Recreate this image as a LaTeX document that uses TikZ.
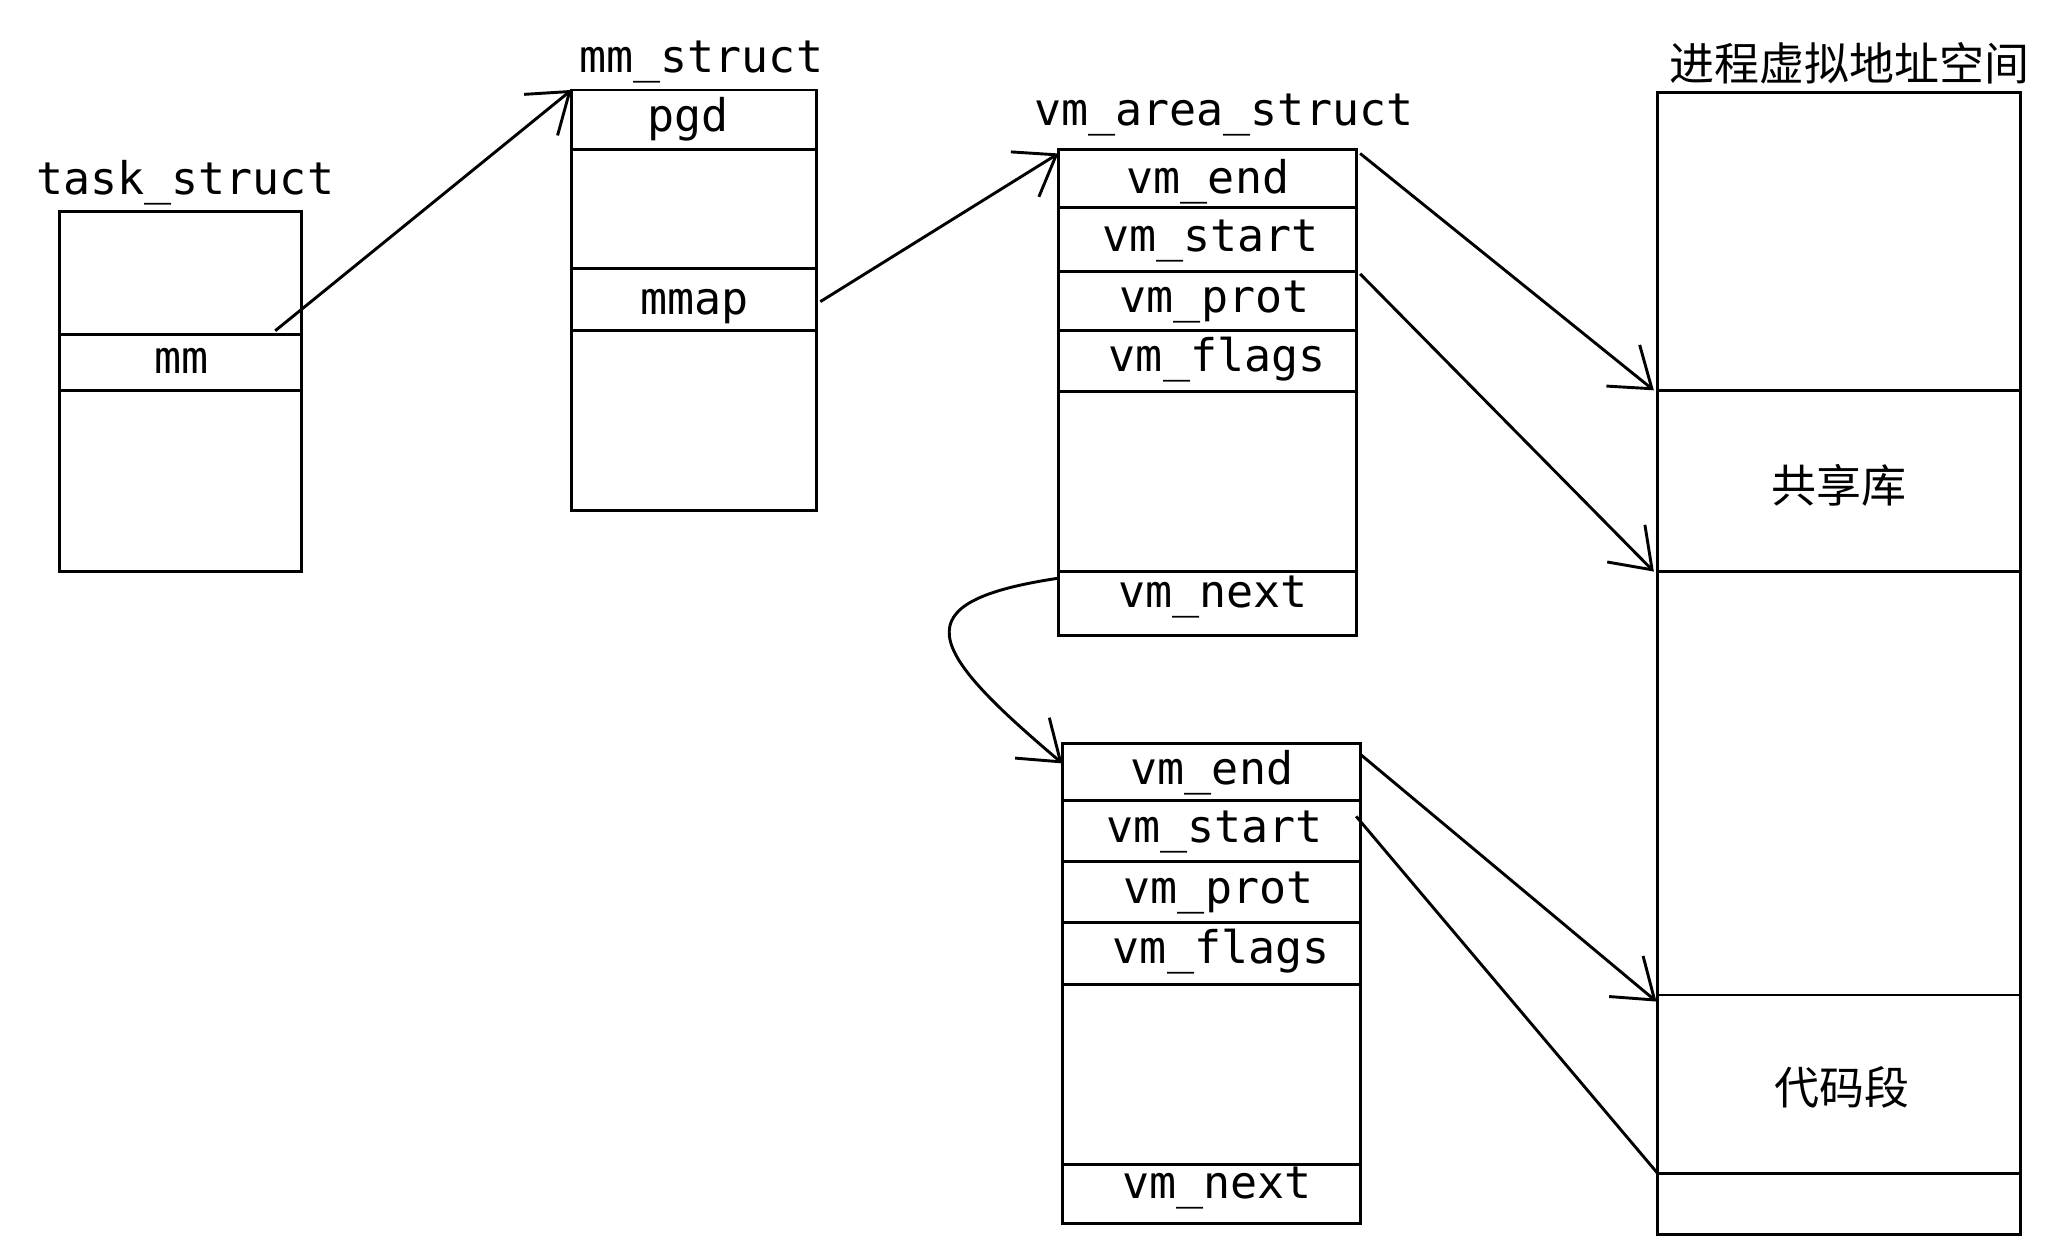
\documentclass[tikz,border=0pt]{standalone}
\usepackage{fontspec}
\setmonofont{DejaVu Sans Mono}
\newfontfamily\cjk{Noto Sans CJK SC}
\usetikzlibrary{arrows.meta}
\begin{document}
\begin{tikzpicture}[x=0.5pt,y=-0.5pt,line width=1.1pt,
  txt/.style={font=\ttfamily\fontsize{17}{17}\selectfont,inner sep=0pt},
  cn/.style={font=\cjk\fontsize{17}{17}\selectfont,inner sep=0pt},
  arr/.style={-{Straight Barb[length=14pt,width=20pt,line width=1.1pt]}}]
\useasboundingbox (0,0) rectangle (1560,952);
% task_struct
\node[txt] (tl) at (140,138) {task\_struct};
\draw (45,160) rectangle (228,432);
\draw (45,253) -- (228,253) (45,295) -- (228,295);
\node[txt] (mm) at (137,273) {mm};
% mm_struct
\node[txt] (ml) at (530,47) {mm\_struct};
\draw (432,68) rectangle (617,386);
\draw (432,113) -- (617,113) (432,203) -- (617,203) (432,250) -- (617,250);
\node[txt] (pgd) at (520,90) {pgd};
\node[txt] (mmap) at (525,232) {mmap};
% vm_area_struct 1
\node[txt] (vl) at (925,87) {vm\_area\_struct};
\draw (800,113) rectangle (1025,480);
\foreach \y in {157,205,250,296,432} \draw (800,\y) -- (1025,\y);
\node[txt] (e1) at (913,137) {vm\_end};
\node[txt] (s1) at (915,182) {vm\_start};
\node[txt] (p1) at (918,228) {vm\_prot};
\node[txt] (f1) at (920,272) {vm\_flags};
\node[txt] (n1) at (917,451) {vm\_next};
% vm_area_struct 2
\draw (803,562) rectangle (1028,925);
\foreach \y in {605,651,697,744,880} \draw (803,\y) -- (1028,\y);
\node[txt] (e2) at (916,584) {vm\_end};
\node[txt] (s2) at (918,629) {vm\_start};
\node[txt] (p2) at (921,675) {vm\_prot};
\node[txt] (f2) at (923,719) {vm\_flags};
\node[txt] (n2) at (920,898) {vm\_next};
% address space
\node[cn] (al) at (1398,48) {进程虚拟地址空间};
\draw (1253,70) rectangle (1527,933);
\foreach \y in {295,432,752,887} \draw (1253,\y) -- (1527,\y);
\node[cn] (lib) at (1390,367) {共享库};
\node[cn] (code) at (1392,822) {代码段};
% endpoints
\coordinate (mmR) at (208,250);
\coordinate (msT) at (432,68);
\coordinate (mmapR) at (620,228);
\coordinate (v1T) at (800,116);
\coordinate (e1R) at (1028,116);
\coordinate (a1) at (1250,295);
\coordinate (p1R) at (1028,207);
\coordinate (a2) at (1250,432);
\coordinate (n1L) at (800,437);
\coordinate (v2T) at (803,577);
\coordinate (e2R) at (1028,570);
\coordinate (a3) at (1252,757);
\coordinate (s2R) at (1025,617);
\coordinate (a4) at (1253,887);
\draw[arr] (mmR) -- (msT);
\draw[arr] (mmapR) -- (v1T);
\draw[arr] (e1R) -- (a1);
\draw[arr] (p1R) -- (a2);
\draw[arr] (n1L) .. controls (680,455) and (700,490) .. (v2T);
\draw[arr] (e2R) -- (a3);
\draw (s2R) -- (a4);
\end{tikzpicture}
\end{document}
